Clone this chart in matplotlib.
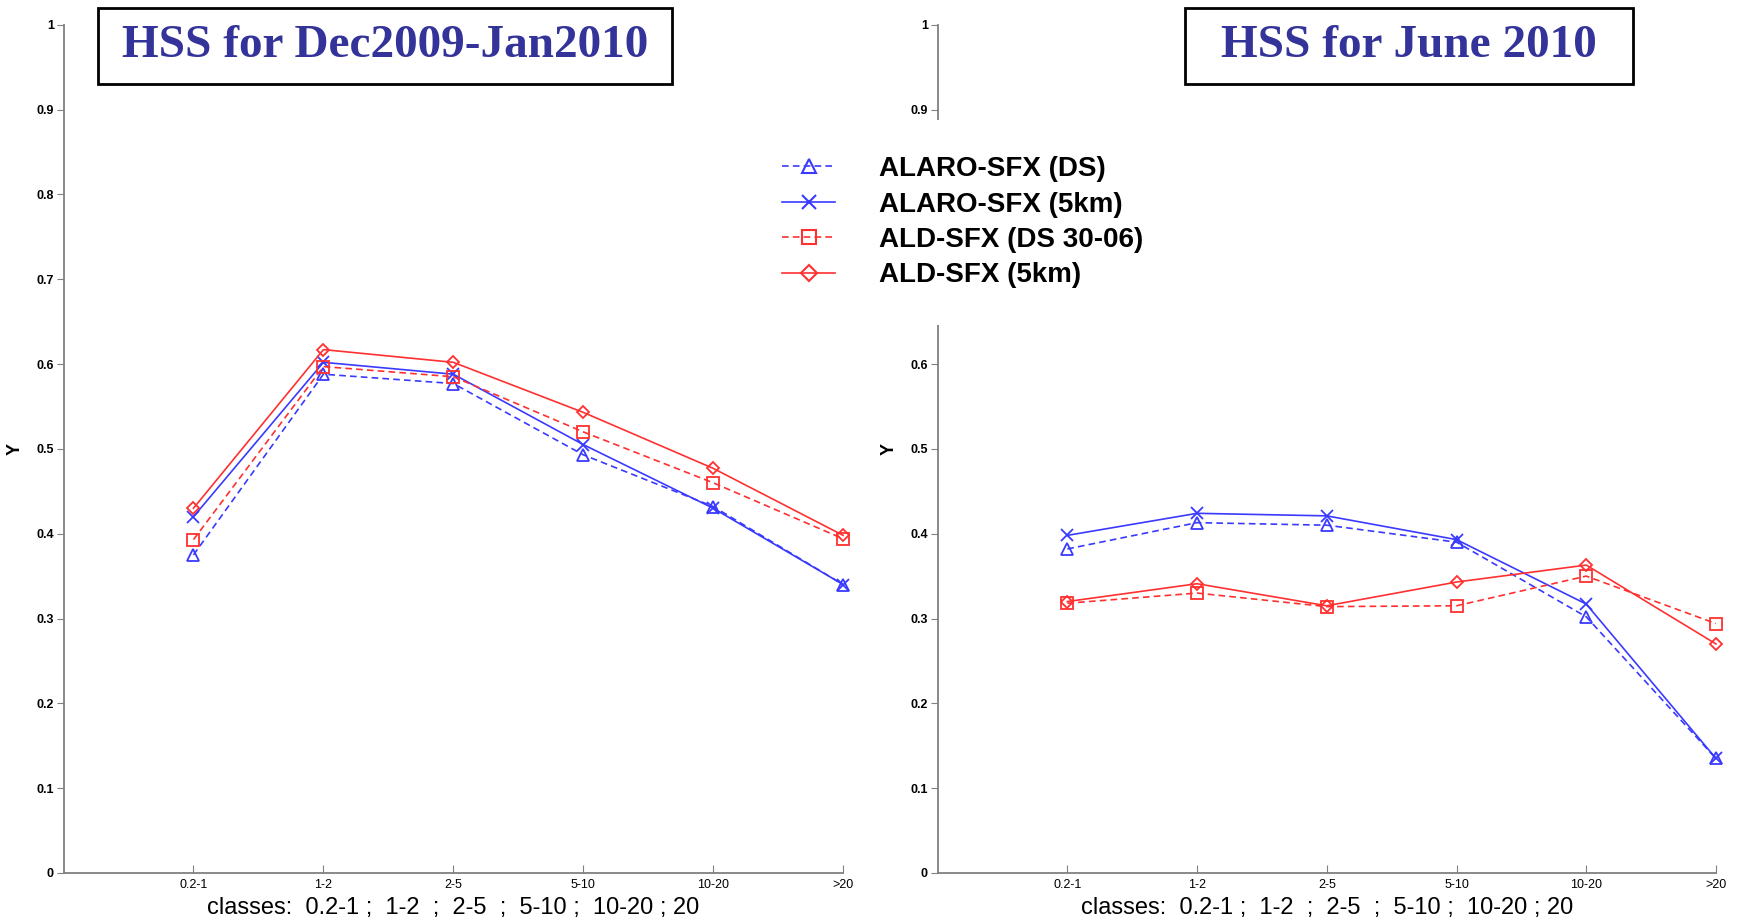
"""HSS per precipitation class, two periods side by side."""
import matplotlib

matplotlib.use("Agg")
import matplotlib.pyplot as plt  # noqa: E402
from matplotlib.lines import Line2D  # noqa: E402
from matplotlib.patches import Rectangle  # noqa: E402

classes = ["0.2-1", "1-2", "2-5", "5-10", "10-20", ">20"]
yticks = [0, 0.1, 0.2, 0.3, 0.4, 0.5, 0.6, 0.7, 0.8, 0.9, 1]
ytick_labels = ["0", "0.1", "0.2", "0.3", "0.4", "0.5", "0.6", "0.7", "0.8", "0.9", "1"]
# right panel: 0.7 / 0.8 sit under the legend box, so they are not shown
ytick_labels_right = ["0", "0.1", "0.2", "0.3", "0.4", "0.5", "0.6", "", "", "0.9", "1"]

series_names = ["ALARO-SFX (DS)", "ALARO-SFX (5km)", "ALD-SFX (DS 30-06)", "ALD-SFX (5km)"]

# Dec2009-Jan2010
winter_alaro_ds = [0.375, 0.588, 0.577, 0.493, 0.432, 0.340]
winter_alaro_5km = [0.420, 0.602, 0.588, 0.505, 0.430, 0.340]
winter_ald_ds = [0.393, 0.597, 0.585, 0.520, 0.460, 0.394]
winter_ald_5km = [0.430, 0.617, 0.602, 0.543, 0.477, 0.398]

# June 2010
june_alaro_ds = [0.382, 0.413, 0.410, 0.390, 0.302, 0.135]
june_alaro_5km = [0.398, 0.424, 0.421, 0.393, 0.317, 0.135]
june_ald_ds = [0.318, 0.330, 0.314, 0.315, 0.350, 0.294]
june_ald_5km = [0.320, 0.341, 0.315, 0.343, 0.363, 0.270]

BLUE = "#3a3aff"
RED = "#ff3030"
styles = [
    dict(color=BLUE, ls=(0, (4, 2.5)), marker="^", mfc="none"),
    dict(color=BLUE, ls="-", marker="x", mfc="none"),
    dict(color=RED, ls=(0, (4, 2.5)), marker="s", mfc="none"),
    dict(color=RED, ls="-", marker="D", mfc="none"),
]

fig = plt.figure(figsize=(17.46, 9.23), dpi=100)
ax_l = fig.add_axes([0.0364, 0.0542, 0.4465, 0.919])
ax_r = fig.add_axes([0.537, 0.0542, 0.4458, 0.919])

panels = [
    (ax_l, [winter_alaro_ds, winter_alaro_5km, winter_ald_ds, winter_ald_5km], ytick_labels),
    (ax_r, [june_alaro_ds, june_alaro_5km, june_ald_ds, june_ald_5km], ytick_labels_right),
]
xs = list(range(1, len(classes) + 1))
for ax, data, ylabels in panels:
    for vals, st, name in zip(data, styles, series_names):
        ax.plot(xs, vals, color=st["color"], ls=st["ls"], marker=st["marker"],
                mfc=st["mfc"], mec=st["color"], ms=8 if st["marker"] != "D" else 6.5,
                mew=1.3, lw=1.2, clip_on=False, label=name)
    ax.set_xlim(0, 6); ax.set_ylim(0, 1)
    for s in ("top", "right"):
        ax.spines[s].set_visible(False)
    for s in ("left", "bottom"):
        ax.spines[s].set_color("#808080"); ax.spines[s].set_linewidth(1.3)
    ax.set_xticks(xs); ax.set_xticklabels(classes, fontsize=9, family="Liberation Sans")
    ax.set_yticks(yticks); ax.set_yticklabels(ylabels, fontsize=9, fontweight="bold",
                                              family="Liberation Sans")
    ax.tick_params(axis="x", direction="in", length=6, color="#808080", pad=4)
    ax.tick_params(axis="y", direction="out", length=5, color="#808080", pad=2)
    ax.set_xlabel("classes:  0.2-1 ;  1-2  ;  2-5  ;  5-10 ;  10-20 ; 20", fontsize=17,
                  family="Liberation Sans", labelpad=5)
    ax.set_ylabel("Y", fontsize=13, fontweight="bold", family="Liberation Sans", labelpad=9)

# boxed titles
title_color = "#333399"
for (x0, x1), txt in [((98, 672), "HSS for Dec2009-Jan2010"), ((1185, 1633), "HSS for June 2010")]:
    y0, y1 = 923 - 83.5, 923 - 7.8
    fig.patches.append(Rectangle((x0 / 1746, y0 / 923), (x1 - x0) / 1746, (y1 - y0) / 923,
                                 transform=fig.transFigure, fill=True, facecolor="white",
                                 edgecolor="black", lw=2, zorder=3))
    fig.text((x0 + x1) / 2 / 1746, (y0 + y1) / 2 / 923, txt, ha="center", va="center",
             fontsize=34, fontweight="bold", family="Liberation Serif", color=title_color,
             zorder=4)

handles = [Line2D([], [], color=st["color"], ls=st["ls"], marker=st["marker"], mfc="none",
                  mec=st["color"], ms=10 if st["marker"] != "D" else 8, mew=1.5, lw=1.2)
           for st in styles]
leg = fig.legend(handles, series_names, loc="upper left", bbox_to_anchor=(746 / 1746, 1 - 120 / 923),
                 frameon=True, facecolor="white", edgecolor="none", framealpha=1,
                 prop=dict(family="Liberation Sans", weight="bold", size=20),
                 handlelength=1.9, handletextpad=1.6, labelspacing=0.34, borderpad=1.3,
                 borderaxespad=0, fancybox=False)
leg.get_frame().set_linewidth(0)

fig.savefig("out.png", dpi=100)
